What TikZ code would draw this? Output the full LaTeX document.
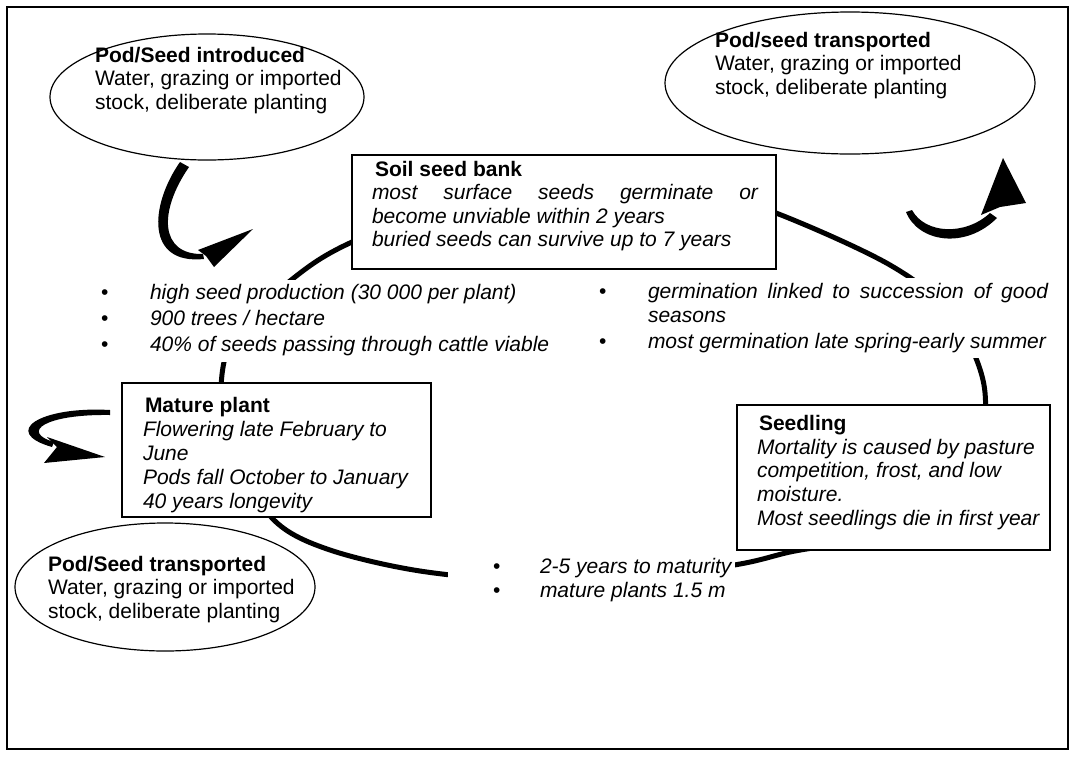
\documentclass[tikz,border=0pt]{standalone}
\usepackage{fontspec}
\setmainfont{Liberation Sans}
\usetikzlibrary{shapes.geometric}
\begin{document}
\begin{tikzpicture}[x=1pt,y=-1pt,
  every node/.style={font=\fontsize{21}{23.5}\selectfont, inner sep=0pt, outer sep=0pt},
  txt/.style={anchor=base west},
  bx/.style={draw, line width=1.4pt, fill=white, anchor=north west},
  ell/.style={draw, ellipse, line width=1.2pt, fill=white},
  cyc/.style={line width=5pt},
  occ/.style={fill=white, draw=none}]
\useasboundingbox (0,0) rectangle (1074,756);
\draw[line width=1.3pt] (7,7) rectangle (1068,749);
% life cycle ring
\draw[cyc] plot[smooth cycle, tension=0.55] coordinates {
  (221,400) (234,335) (295,277) (352,242) (460,201) (590,184) (700,192)
  (776,213) (890,265) (952,315) (984,385) (976,455) (925,510) (850,540)
  (790,552) (740,564) (640,579) (530,581) (420,571) (330,550) (276,522) (238,465)};
% text areas hiding the ring
\fill[occ] (95,280) rectangle (565,362);
\fill[occ] (592,278) rectangle (1062,358);
\fill[occ] (448,550) rectangle (735,604);
% boxes
\node[bx, minimum width=424pt, minimum height=114pt] (bank) at (352,155) {};
\node[bx, minimum width=309pt, minimum height=134pt] (mature) at (122,383) {};
\node[bx, minimum width=313pt, minimum height=145pt] (seedling) at (737,405) {};
% ellipses
\node[ell, minimum width=314pt, minimum height=126pt] (intro) at (207,97) {};
\node[ell, minimum width=370pt, minimum height=142pt] (transTR) at (850,83) {};
\node[ell, minimum width=300pt, minimum height=128pt] (transBL) at (165,587) {};
% texts
\node[txt] (i1) at (95,62) {\bfseries Pod/Seed introduced};
\node[txt] (i2) at (95,85.5) {Water, grazing or imported};
\node[txt] (i3) at (95,109) {stock, deliberate planting};
\node[txt] (t1) at (715,47) {\bfseries Pod/seed transported};
\node[txt] (t2) at (715,70.5) {Water, grazing or imported};
\node[txt] (t3) at (715,94) {stock, deliberate planting};
\node[txt] (b1) at (375,176) {\bfseries Soil seed bank};
\node[txt] (b2) at (372,199.5) {\itshape\makebox[386pt][s]{most surface seeds germinate or}};
\node[txt] (b3) at (372,223) {\itshape become unviable within 2 years};
\node[txt] (b4) at (372,246.5) {\itshape buried seeds can survive up to 7 years};
\node[txt] (l1d) at (101,299) {•};
\node[txt] (l1) at (150,299) {\itshape high seed production (30 000 per plant)};
\node[txt] (l2d) at (101,325) {•};
\node[txt] (l2) at (150,325) {\itshape 900 trees / hectare};
\node[txt] (l3d) at (101,351) {•};
\node[txt] (l3) at (150,351) {\itshape 40\% of seeds passing through cattle viable};
\node[txt] (r1d) at (599,298) {•};
\node[txt] (r1) at (648,298) {\itshape\makebox[400pt][s]{germination linked to succession of good}};
\node[txt] (r2) at (648,322) {\itshape seasons};
\node[txt] (r3d) at (599,348) {•};
\node[txt] (r3) at (648,348) {\itshape most germination late spring-early summer};
\node[txt] (m1) at (145,412) {\bfseries Mature plant};
\node[txt] (m2) at (143,436) {\itshape Flowering late February to};
\node[txt] (m3) at (143,460) {\itshape June};
\node[txt] (m4) at (143,484) {\itshape Pods fall October to January};
\node[txt] (m5) at (143,508) {\itshape 40 years longevity};
\node[txt] (s1) at (759,430) {\bfseries Seedling};
\node[txt] (s2) at (757,454) {\itshape Mortality is caused by pasture};
\node[txt] (s3) at (757,477.5) {\itshape competition, frost, and low};
\node[txt] (s4) at (757,501) {\itshape moisture.};
\node[txt] (s5) at (757,525) {\itshape Most seedlings die in first year};
\node[txt] (p1) at (48,571) {\bfseries Pod/Seed transported};
\node[txt] (p2) at (48,594.5) {Water, grazing or imported};
\node[txt] (p3) at (48,618) {stock, deliberate planting};
\node[txt] (g1d) at (493,573) {•};
\node[txt] (g1) at (540,573) {\itshape 2-5 years to maturity};
\node[txt] (g2d) at (493,597) {•};
\node[txt] (g2) at (540,597) {\itshape mature plants 1.5 m};
% curved arrows
\fill (180,162) .. controls (150,205) and (145,265) .. (204,259)
  -- (203,254) .. controls (160,255) and (158,212) .. (189,167) -- cycle;
\fill (253,229) -- (198,250) -- (206,256) -- (214,267) -- cycle;
\fill (906,212) .. controls (918,242) and (965,250) .. (997,218)
  -- (990,213) .. controls (965,236) and (925,234) .. (912,210) -- cycle;
\fill (1003,158) -- (1026,203) -- (1000,207) -- (981,215) -- cycle;
\fill (110,410) .. controls (40,406) and (0,432) .. (52,447)
  -- (54,442) .. controls (20,432) and (45,414) .. (110,415) -- cycle;
\fill (105,457) -- (47,437) -- (57,447) -- (44,463) -- cycle;
\end{tikzpicture}
\end{document}
